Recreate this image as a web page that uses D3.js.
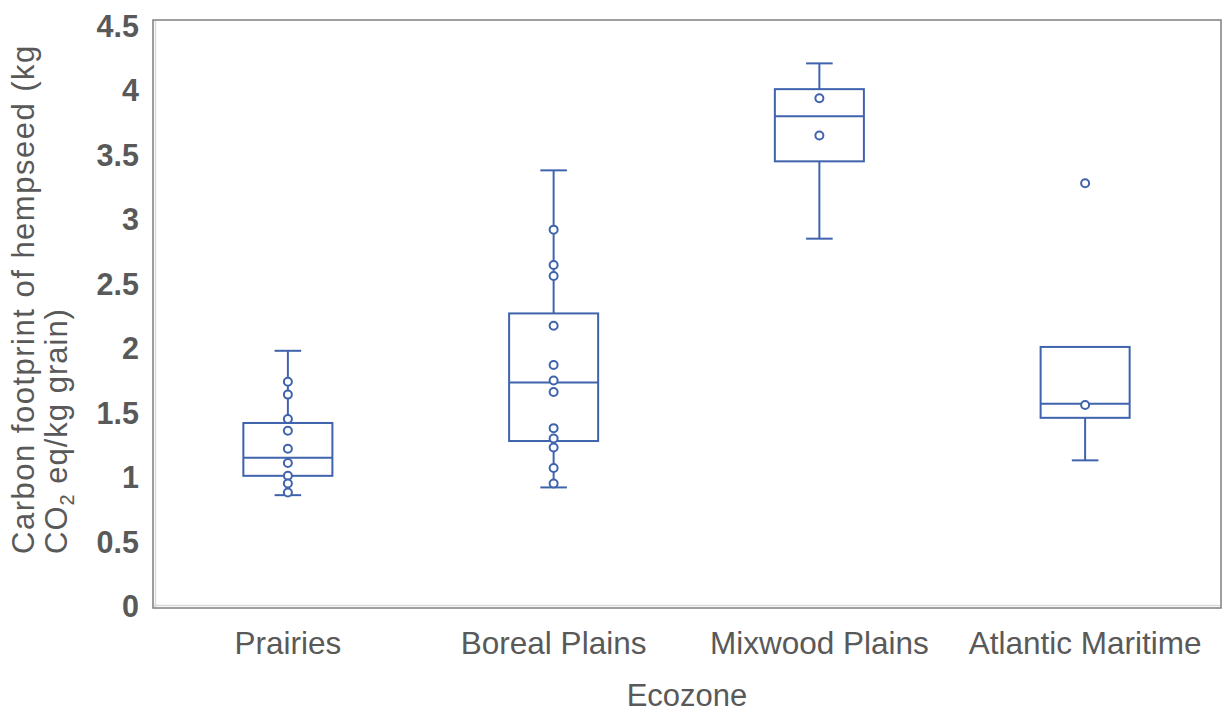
<!DOCTYPE html>
<html>
<head>
<meta charset="utf-8">
<script src="https://cdn.jsdelivr.net/npm/d3@7"></script>
<style>
  body { margin: 0; background: #fff; }
  text { font-family: "Liberation Sans", Arial, sans-serif; fill: #595959; }
</style>
</head>
<body>
<div id="chart"></div>
<script>
  'use strict';

  var categories = ["Prairies", "Boreal Plains", "Mixwood Plains", "Atlantic Maritime"];
  var whiskerLow = [0.86, 0.92, 2.85, 1.13];
  var quartile1 = [1.01, 1.28, 3.45, 1.46];
  var medians = [1.15, 1.735, 3.80, 1.57];
  var quartile3 = [1.42, 2.27, 4.01, 2.01];
  var whiskerHigh = [1.98, 3.38, 4.21, 2.01];
  var points = [
    [1.74, 1.64, 1.45, 1.36, 1.22, 1.11, 1.01, 0.95, 0.88],
    [2.92, 2.645, 2.56, 2.175, 1.87, 1.75, 1.66, 1.38, 1.30, 1.23, 1.07, 0.95],
    [3.94, 3.65],
    [3.28, 1.56]
  ];
  var yTicks = [0, 0.5, 1, 1.5, 2, 2.5, 3, 3.5, 4, 4.5];

  var w = 1225;
  var h = 712;
  var frameLeft = 153, frameRight = 1221, frameTop = 20, frameBottom = 608;
  var boxColor = "#3f63ad";

  var svg = d3.select("#chart").append("svg")
    .attr("width", w)
    .attr("height", h);

  var x = d3.scaleBand()
    .domain(categories)
    .range([155, 1218]);

  var y = d3.scaleLinear()
    .domain([0, 4.5])
    .range([606, 26]);

  // plot frame
  svg.append("rect")
    .attr("x", frameLeft)
    .attr("y", frameTop)
    .attr("width", frameRight - frameLeft)
    .attr("height", frameBottom - frameTop)
    .attr("fill", "none")
    .attr("stroke", "#7f7f7f")
    .attr("stroke-width", 1.5);

  svg.append("line")
    .attr("x1", frameLeft + 1).attr("x2", frameRight - 1)
    .attr("y1", frameBottom - 2.5).attr("y2", frameBottom - 2.5)
    .attr("stroke", "#d9d9d9")
    .attr("stroke-width", 1.5);

  svg.append("line")
    .attr("x1", frameLeft + 2.5).attr("x2", frameLeft + 2.5)
    .attr("y1", frameTop + 1).attr("y2", frameBottom - 1)
    .attr("stroke", "#d9d9d9")
    .attr("stroke-width", 1.5);

  // y tick labels
  svg.selectAll("text.ytick")
    .data(yTicks)
    .enter()
    .append("text")
    .attr("class", "ytick")
    .attr("x", 139)
    .attr("y", function (d) { return y(d); })
    .attr("dy", "0.36em")
    .attr("text-anchor", "end")
    .style("font-size", "30.5px")
    .style("font-weight", "bold")
    .text(function (d) { return d; });

  // category labels
  svg.selectAll("text.xcat")
    .data(categories)
    .enter()
    .append("text")
    .attr("class", "xcat")
    .attr("x", function (d) { return x(d) + x.bandwidth() / 2; })
    .attr("y", 654)
    .attr("text-anchor", "middle")
    .style("font-size", "31.5px")
    .text(function (d) { return d; });

  svg.append("text")
    .attr("x", (frameLeft + frameRight) / 2)
    .attr("y", 706)
    .attr("text-anchor", "middle")
    .style("font-size", "31px")
    .text("Ecozone");

  // y title, two lines
  var yTitle = svg.append("text")
    .attr("transform", "translate(34,554) rotate(-90)")
    .attr("text-anchor", "start")
    .style("font-size", "31px")
    .style("letter-spacing", "1.5px");
  yTitle.append("tspan")
    .attr("x", 0).attr("y", 0)
    .text("Carbon footprint of hempseed (kg");
  var line2 = svg.append("text")
    .attr("transform", "translate(67,554) rotate(-90)")
    .attr("text-anchor", "start")
    .style("font-size", "31px")
    .style("letter-spacing", "1px");
  line2.append("tspan").text("CO");
  line2.append("tspan").attr("dy", 7).style("font-size", "20px").text("2");
  line2.append("tspan").attr("dy", -7).text(" eq/kg grain)");

  // boxes
  var boxWidth = x.bandwidth() * 0.335;
  var capWidth = x.bandwidth() * 0.1;

  var groups = svg.selectAll("g.box")
    .data(categories)
    .enter()
    .append("g")
    .attr("class", "box")
    .attr("transform", function (d) {
      return "translate(" + (x(d) + x.bandwidth() / 2) + ",0)";
    });

  groups.each(function (d, i) {
    var g = d3.select(this);

    if (whiskerHigh[i] > quartile3[i]) {
      g.append("line")
        .attr("x1", 0).attr("x2", 0)
        .attr("y1", y(quartile3[i])).attr("y2", y(whiskerHigh[i]))
        .attr("stroke", boxColor).attr("stroke-width", 2);
      g.append("line")
        .attr("x1", -capWidth / 2).attr("x2", capWidth / 2)
        .attr("y1", y(whiskerHigh[i])).attr("y2", y(whiskerHigh[i]))
        .attr("stroke", boxColor).attr("stroke-width", 2);
    }
    if (whiskerLow[i] < quartile1[i]) {
      g.append("line")
        .attr("x1", 0).attr("x2", 0)
        .attr("y1", y(quartile1[i])).attr("y2", y(whiskerLow[i]))
        .attr("stroke", boxColor).attr("stroke-width", 2);
      g.append("line")
        .attr("x1", -capWidth / 2).attr("x2", capWidth / 2)
        .attr("y1", y(whiskerLow[i])).attr("y2", y(whiskerLow[i]))
        .attr("stroke", boxColor).attr("stroke-width", 2);
    }

    g.append("rect")
      .attr("x", -boxWidth / 2)
      .attr("y", y(quartile3[i]))
      .attr("width", boxWidth)
      .attr("height", y(quartile1[i]) - y(quartile3[i]))
      .attr("fill", "none")
      .attr("stroke", boxColor)
      .attr("stroke-width", 2);

    g.append("line")
      .attr("x1", -boxWidth / 2).attr("x2", boxWidth / 2)
      .attr("y1", y(medians[i])).attr("y2", y(medians[i]))
      .attr("stroke", boxColor).attr("stroke-width", 2);

    g.selectAll("circle")
      .data(points[i])
      .enter()
      .append("circle")
      .attr("cx", 0)
      .attr("cy", function (v) { return y(v); })
      .attr("r", 4)
      .attr("fill", "#fff")
      .attr("stroke", boxColor)
      .attr("stroke-width", 2);
  });
</script>
</body>
</html>
